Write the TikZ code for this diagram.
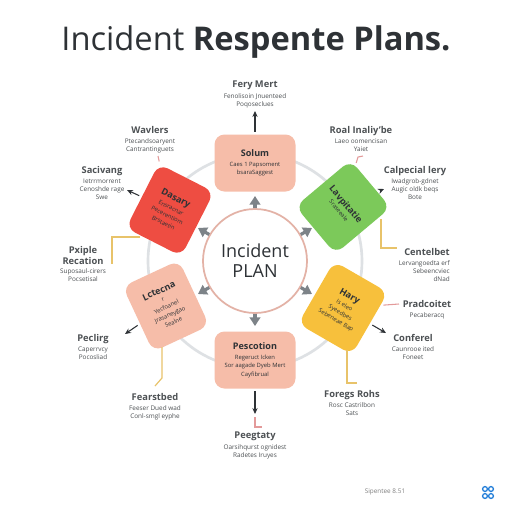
\documentclass[tikz,border=0pt]{standalone}
\usepackage{fontspec}
\setmainfont{Open Sans}
\usetikzlibrary{arrows.meta}

\definecolor{peach}{HTML}{F6BDA9}
\definecolor{alarm}{HTML}{EE4D42}
\definecolor{leaf}{HTML}{7CC95A}
\definecolor{amber}{HTML}{F7C03C}
\definecolor{rosy}{HTML}{E39A9A}
\definecolor{straw}{HTML}{E8C36A}
\definecolor{ringgray}{HTML}{DEE1E4}
\definecolor{arrgray}{HTML}{7D8388}
\definecolor{hubrim}{HTML}{E3B2A6}
\definecolor{inkdark}{HTML}{2E3236}

\newcommand{\ttl}[1]{{\fontsize{7}{8}\selectfont\bfseries #1}}
\newcommand{\btl}[1]{{\fontsize{6.8}{8}\selectfont\bfseries #1}}

\tikzset{
  hub/.style={circle, draw=hubrim, line width=1.3pt, fill=white, minimum size=78pt,
    align=center, font=\fontsize{13.5}{15}\selectfont, text=inkdark},
  box/.style={rounded corners=7.5pt, align=center, inner sep=1pt,
    font=\fontsize{4.4}{6.3}\selectfont, text=inkdark},
  sidebox/.style={box, minimum width=46.5pt, minimum height=54pt},
  flatbox/.style={box, fill=peach, minimum width=60.75pt, minimum height=42.75pt},
  lbl/.style={anchor=north, align=center, inner sep=0pt,
    font=\fontsize{4.8}{5.9}\selectfont, text=inkdark!85},
  ringln/.style={draw=ringgray, line width=2pt},
  hubarr/.style={draw=arrgray, line width=2.4pt, -{Triangle[width=8pt,length=6.5pt]}},
  darkarr/.style={draw=inkdark, line width=0.8pt, -{Stealth[length=4.5pt,width=4pt]}, shorten <=2pt},
  pinkln/.style={draw=rosy, line width=0.8pt, shorten <=2pt},
  yelln/.style={draw=straw, line width=0.9pt},
}

\begin{document}
\begin{tikzpicture}[x=0.75pt,y=0.75pt,yscale=-1,xscale=1]
\useasboundingbox (0,0) rectangle (512,512);
\fill[white] (0,0) rectangle (512,512);

%Shape: Circle (ring)
\draw[ringln] (255,261) circle [radius=80.25pt];

% Text Node
\node (title) at (256,50) [anchor=base, font=\fontsize{24.5}{28}\selectfont, text=inkdark] {Incident \textbf{Respente Plans.}};

%Shape: Circle (hub)
\node (plan) at (255,261) [hub] {Incident\\PLAN};

%Rounded Rect
\node (solum) at (255,163) [flatbox] {\btl{Solum}\\[1pt]Caes 1 Papsoment\\bsaraSaggest};
%Rounded Rect
\node (dasary) at (170,210) [sidebox, fill=alarm, rotate=-27] {\btl{Dasary}\\[1pt]Ensracnar\\Pecerentiom\\Brstaetin};
%Rounded Rect
\node (lavp) at (343,207) [sidebox, fill=leaf, rotate=-50] {\btl{Lavpitatie}\\Sraseeale};
%Rounded Rect
\node (lctecna) at (166,306) [sidebox, fill=peach, rotate=25] {\btl{Lctecna}\\r\\Yecfoanel\\Jrasaneygao\\Sealne};
%Rounded Rect
\node (hary) at (343,308) [sidebox, fill=amber, rotate=-30] {\btl{Hary}\\[1pt]Is eleo\\Syeedbes\\Sebeneae Bap};
%Rounded Rect
\node (pesc) at (255,360) [flatbox] {\btl{Pescotion}\\[1pt]Regeruct Icken\\Sor aagade Dyeb Mert\\Cayfibrual};

% hub arrow ends
\coordinate (gTop) at (255,196);
\coordinate (gUR) at (312,228);
\coordinate (gUL) at (198,228);
\coordinate (gLL) at (198,294);
\coordinate (gLR) at (312,294);
\coordinate (gBot) at (255,326);
\draw[hubarr] (plan) -- (gTop);
\draw[hubarr] (plan) -- (gUR);
\draw[hubarr] (plan) -- (gUL);
\draw[hubarr] (plan) -- (gLL);
\draw[hubarr] (plan) -- (gLR);
\draw[hubarr] (plan) -- (gBot);

% outer arrow tips
\coordinate (feryTip) at (255,111);
\coordinate (sacTip) at (127,190);
\coordinate (calTip) at (384,189);
\coordinate (pecTip) at (125,334);
\coordinate (conTip) at (386,333);
\coordinate (pegTip) at (255,414);
\draw[darkarr] (solum) -- (feryTip);
\draw[darkarr] (dasary) -- (sacTip);
\draw[darkarr] (lavp) -- (calTip);
\draw[darkarr] (lctecna) -- (pecTip);
\draw[darkarr] (hary) -- (conTip);
\draw[darkarr] (pesc) -- (pegTip);

% pink leads
\coordinate (wavEnd) at (158,156);
\coordinate (roalEnd) at (358,157);
\coordinate (roalHook) at (363,156);
\coordinate (pradEnd) at (399,304);
\coordinate (pegA) at (255,417);
\coordinate (pegB) at (255,427);
\coordinate (pegC) at (262,427);
\draw[pinkln] (dasary) -- (wavEnd);
\draw[pinkln] (lavp) -- (roalEnd) -- (roalHook);
\draw[pinkln] (hary) -- (pradEnd);
\draw[pinkln, shorten <=0pt] (pegA) -- (pegB) -- (pegC);

% yellow leads
\coordinate (redY) at (140,237);
\coordinate (pxA) at (112,237);
\coordinate (pxB) at (112,264);
\coordinate (greenY) at (381,219);
\coordinate (cenA) at (381,248);
\coordinate (cenB) at (397,248);
\coordinate (lctY) at (162,347);
\coordinate (fearA) at (162,378);
\coordinate (fearB) at (155,386);
\coordinate (haryY) at (347,350);
\coordinate (forA) at (347,383);
\coordinate (forB) at (357,383);
\draw[yelln] (redY) -- (pxA) -- (pxB);
\draw[yelln] (greenY) -- (cenA) -- (cenB);
\draw[yelln] (lctY) -- (fearA) -- (fearB);
\draw[yelln] (haryY) -- (forA) -- (forB);

% Text Node
\node (feryLbl) at (255,81) [lbl] {\ttl{Fery Mert}\\[2pt]Fenolisoin Jnuenteed\\Poqoseclues};
% Text Node
\node (wavLbl) at (150,126) [lbl] {\ttl{Wavlers}\\[2pt]Ptecandsoaryent\\Cantrantinguets};
% Text Node
\node (sacLbl) at (102,166) [lbl] {\ttl{Sacivang}\\[2pt]Ietrrmorrent\\Cenoshde rage\\Swe};
% Text Node
\node (roalLbl) at (361,126) [lbl] {\ttl{Roal Inaliy'be}\\[2pt]Laeo oomencisan\\Yaiet};
% Text Node
\node (calLbl) at (415,166) [lbl] {\ttl{Calpecial lery}\\[2pt]Iwadgrob-gdnet\\Augic oldk beqs\\Bote};
% Text Node
\node (pxLbl) at (83,246) [lbl] {\ttl{Pxiple}\\\ttl{Recation}\\[1pt]Suposaul-cirers\\Pocsetisal};
% Text Node
\node (cenLbl) at (450,248) [lbl, anchor=north east, align=right] {\ttl{Centelbet}\\[2pt]Lervangoedta erf\\Sebeencviec\\dNad};
% Text Node
\node (pecLbl) at (93,334) [lbl] {\ttl{Peclirg}\\[2pt]Caperrvcy\\Pocosliad};
% Text Node
\node (pradLbl) at (427,300) [lbl] {\ttl{Pradcoitet}\\[2pt]Pecaberacq};
% Text Node
\node (conLbl) at (413,334) [lbl] {\ttl{Conferel}\\[2pt]Caunrooe ited\\Foneet};
% Text Node
\node (fearLbl) at (155,393) [lbl] {\ttl{Fearstbed}\\[2pt]Feeser Dued wad\\Conl-smgl eyphe};
% Text Node
\node (forLbl) at (352,390) [lbl] {\ttl{Foregs Rohs}\\[2pt]Rosc Castrilbon\\Sats};
% Text Node
\node (pegLbl) at (255,432) [lbl] {\ttl{Peegtaty}\\[2pt]Oarsihqurst ognidest\\Radetes Iruyes};
% Text Node
\node (footer) at (385,492) [font=\fontsize{4.8}{6}\selectfont, text=gray] {Sipentee 8.51};

%Shape: icon
\draw[draw=blue!50!cyan!70!gray, line width=1pt] (485,489) circle [radius=1.8pt] (491,489) circle [radius=1.8pt] (485,496) circle [radius=1.8pt] (491,496) circle [radius=1.8pt];

\end{tikzpicture}
\end{document}
